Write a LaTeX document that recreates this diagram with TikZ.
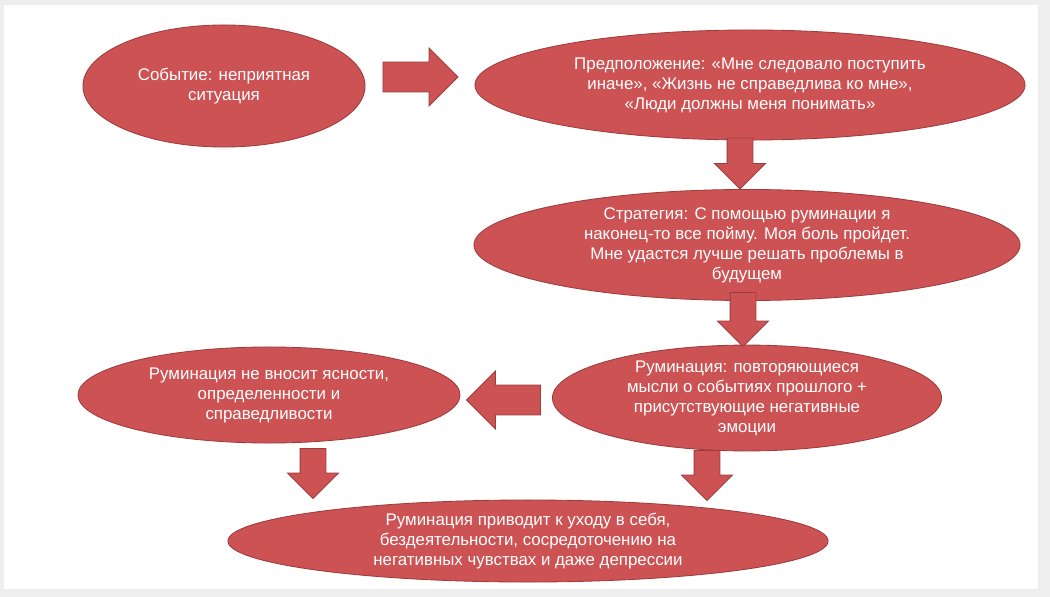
\documentclass[tikz,border=0pt]{standalone}
\usepackage{fontspec}
\setmainfont{Liberation Sans}
\usetikzlibrary{shapes.geometric,shapes.arrows,positioning,calc}
\definecolor{bubblered}{HTML}{CD5254}
\definecolor{bubbleline}{HTML}{9E3B3D}
\definecolor{framegray}{HTML}{EEEEEE}

\begin{document}
\begin{tikzpicture}[
    x=0.025cm, y=-0.025cm,
    bubble/.style={ellipse, draw=bubbleline, line width=0.6pt, fill=bubblered, text=white, align=center, inner sep=0pt, font=\fontsize{12}{14.2}\selectfont},
    blockarrow/.style={single arrow, draw=bubbleline, line width=0.6pt, fill=bubblered, inner sep=0.3625cm, single arrow head extend=0.35cm, minimum height=1.875cm},
    downarrow/.style={blockarrow, shape border rotate=270, inner sep=0.3125cm, single arrow head extend=0.3125cm, minimum height=1.275cm}
]
    % Frame
    \fill[framegray] (0,0) rectangle (1050,597);
    \fill[white] (4,5) rectangle (1038,589);

    % Top row
    \node[bubble, minimum width=7.05cm, minimum height=3.05cm] (event) at (224,86) {Событие: неприятная\\ситуация};
    \node[bubble, minimum width=13.75cm, minimum height=2.75cm] (assume) at (750,85) {Предположение: «Мне следовало поступить\\иначе», «Жизнь не справедлива ко мне»,\\«Люди должны меня понимать»};

    % Strategy
    \node[bubble, minimum width=13.65cm, minimum height=2.775cm] (strategy) at (747,245) {Стратегия: С помощью руминации я\\наконец-то все пойму. Моя боль пройдет.\\Мне удастся лучше решать проблемы в\\будущем};

    % Rumination row
    \node[bubble, minimum width=9.725cm, minimum height=2.425cm] (rumin) at (747,398) {Руминация: повторяющиеся\\мысли о событиях прошлого +\\присутствующие негативные\\эмоции};
    \node[bubble, minimum width=9.55cm, minimum height=2.4cm] (noclear) at (269,395) {Руминация не вносит ясности,\\определенности и\\справедливости};

    % Result
    \node[bubble, minimum width=15cm, minimum height=2.05cm] (result) at (528,541) {Руминация приводит к уходу в себя,\\бездеятельности, сосредоточению на\\негативных чувствах и даже депрессии};

    % Block arrows
    \node[blockarrow] (a-event) at (413,77) {};
    \node[downarrow] (a-assume) at (740,157) {};
    \node[downarrow, minimum height=1.35cm] (a-strategy) at (743,313) {};
    \node[blockarrow, shape border rotate=180, minimum height=1.85cm] (a-rumin) at (511,400) {};
    \node[downarrow, minimum height=1.25cm] (a-noclear) at (313,467) {};
    \node[downarrow, minimum height=1.25cm] (a-rumin2) at (707,469) {};
\end{tikzpicture}
\end{document}
